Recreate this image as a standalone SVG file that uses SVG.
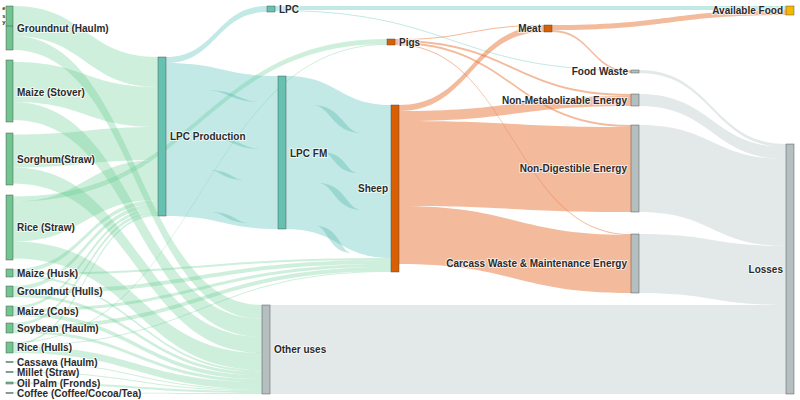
<svg xmlns="http://www.w3.org/2000/svg" width="800" height="400" viewBox="0 0 800 400">
<style>
.n{stroke:#444;stroke-width:.5;stroke-opacity:.85}
.cg{fill:#72c491}.ct{fill:#66c2b0}.co{fill:#d95f02}.cy{fill:#f5b800}.cx{fill:#b6bfc0}
.lg{fill:#5cc98c;fill-opacity:.3}
.lt{fill:#5fc4bb;fill-opacity:.38}
.lo{fill:#e8763a;fill-opacity:.5}
.lr{fill:#b0bcc0;fill-opacity:.35}
.ln{fill:#4fb8ad;fill-opacity:.35}
text{font-family:"Liberation Sans",Arial,sans-serif;font-weight:bold;font-size:10px;fill:#2b2b2b;stroke:#fff;stroke-width:2;stroke-opacity:.7;paint-order:stroke;stroke-linejoin:round}
.e{text-anchor:end}
.s{font-size:6px;stroke-width:1}
</style>
<rect width="800" height="400" fill="#fff"/>
<g id="links">
<path class="lg" d="M13 6C85.5 6 85.5 57 158 57L158 87C85.5 87 85.5 36 13 36Z"/>
<path class="lg" d="M13 62C85.5 62 85.5 87 158 87L158 127C85.5 127 85.5 102 13 102Z"/>
<path class="lg" d="M13 134.5C85.5 134.5 85.5 127 158 127L158 160C85.5 160 85.5 167.5 13 167.5Z"/>
<path class="lg" d="M13 201.5C85.5 201.5 85.5 160 158 160L158 200C85.5 200 85.5 241.5 13 241.5Z"/>
<path class="lg" d="M13 269C85.5 269 85.5 200 158 200L158 204C85.5 204 85.5 273 13 273Z"/>
<path class="lg" d="M13 286C85.5 286 85.5 204 158 204L158 208C85.5 208 85.5 290 13 290Z"/>
<path class="lg" d="M13 306C85.5 306 85.5 208 158 208L158 211C85.5 211 85.5 309 13 309Z"/>
<path class="lg" d="M13 323C85.5 323 85.5 211 158 211L158 214C85.5 214 85.5 326 13 326Z"/>
<path class="lg" d="M13 343C85.5 343 85.5 214 158 214L158 216C85.5 216 85.5 345 13 345Z"/>
<path class="lg" d="M13 36C137.5 36 137.5 305 262 305L262 319C137.5 319 137.5 50 13 50Z"/>
<path class="lg" d="M13 102C137.5 102 137.5 319 262 319L262 337C137.5 337 137.5 120 13 120Z"/>
<path class="lg" d="M13 167.5C137.5 167.5 137.5 337 262 337L262 353C137.5 353 137.5 183.5 13 183.5Z"/>
<path class="lg" d="M13 241.5C137.5 241.5 137.5 353 262 353L262 370C137.5 370 137.5 258.5 13 258.5Z"/>
<path class="lg" d="M13 275C137.5 275 137.5 370 262 370L262 372C137.5 372 137.5 277 13 277Z"/>
<path class="lg" d="M13 294C137.5 294 137.5 372 262 372L262 375C137.5 375 137.5 297 13 297Z"/>
<path class="lg" d="M13 312C137.5 312 137.5 375 262 375L262 379C137.5 379 137.5 316 13 316Z"/>
<path class="lg" d="M13 330C137.5 330 137.5 379 262 379L262 382C137.5 382 137.5 333 13 333Z"/>
<path class="lg" d="M13 346C137.5 346 137.5 382 262 382L262 389C137.5 389 137.5 353 13 353Z"/>
<path class="lg" d="M13 361.5C137.5 361.5 137.5 389 262 389L262 390C137.5 390 137.5 362.5 13 362.5Z"/>
<path class="lg" d="M13 371.5C137.5 371.5 137.5 390 262 390L262 391C137.5 391 137.5 372.5 13 372.5Z"/>
<path class="lg" d="M13 382C137.5 382 137.5 391 262 391L262 393C137.5 393 137.5 384 13 384Z"/>
<path class="lg" d="M13 392.5C137.5 392.5 137.5 393 262 393L262 394C137.5 394 137.5 393.5 13 393.5Z"/>
<path class="lg" d="M13 273C202 273 202 258 391 258L391 260C202 260 202 275 13 275Z"/>
<path class="lg" d="M13 290C202 290 202 260 391 260L391 264C202 264 202 294 13 294Z"/>
<path class="lg" d="M13 309C202 309 202 264 391 264L391 267C202 267 202 312 13 312Z"/>
<path class="lg" d="M13 326C202 326 202 267 391 267L391 271C202 271 202 330 13 330Z"/>
<path class="lg" d="M13 345C202 345 202 271 391 271L391 272C202 272 202 346 13 346Z"/>
<path class="lg" d="M13 196.5C200 196.5 200 39 387 39L387 44C200 44 200 201.5 13 201.5Z"/>
<path class="lg" d="M13 342C200 342 200 44 387 44L387 45C200 45 200 343 13 343Z"/>
<path class="lt" d="M166 57C216.5 57 216.5 6 267 6L267 12C216.5 12 216.5 63 166 63Z"/>
<path class="lt" d="M166 63C222 63 222 76 278 76L278 229C222 229 222 216 166 216Z"/>
<path class="lt" d="M286 76C338.5 76 338.5 105 391 105L391 258C338.5 258 338.5 229 286 229Z"/>
<path class="lt" d="M275 6L786 6L786 10L275 10Z"/>
<path class="lt" d="M275 10C453 10 453 70 631 70L631 71C453 71 453 11 275 11Z"/>
<path class="ln" d="M205 90C228.5 90 228.5 102 262 102C238.5 102 238.5 90 205 90Z"/>
<path class="ln" d="M212 138C232 138 232 149 262 149C242 149 242 138 212 138Z"/>
<path class="ln" d="M208 170C221.5 170 221.5 180 245 180C231.5 180 231.5 170 208 170Z"/>
<path class="ln" d="M210 212C225 212 225 223 250 223C235 223 235 212 210 212Z"/>
<path class="ln" d="M312 105C331 105 331 133 362 133C343 133 343 105 312 105Z"/>
<path class="ln" d="M322 152C334 152 334 173 358 173C346 173 346 152 322 152Z"/>
<path class="ln" d="M318 183C334 183 334 210 362 210C346 210 346 183 318 183Z"/>
<path class="ln" d="M316 226C328 226 328 253 352 253C340 253 340 226 316 226Z"/>
<path class="lo" d="M395 39C469.5 39 469.5 25 544 25L544 26C469.5 26 469.5 40 395 40Z"/>
<path class="lo" d="M395 40C513 40 513 94 631 94L631 96C513 96 513 42 395 42Z"/>
<path class="lo" d="M395 42C513 42 513 125 631 125L631 127C513 127 513 44 395 44Z"/>
<path class="lo" d="M395 44C513 44 513 234 631 234L631 235C513 235 513 45 395 45Z"/>
<path class="lo" d="M399 105C471.5 105 471.5 26 544 26L544 32C471.5 32 471.5 111 399 111Z"/>
<path class="lo" d="M399 111C515 111 515 96 631 96L631 106C515 106 515 121 399 121Z"/>
<path class="lo" d="M399 121C515 121 515 127 631 127L631 212C515 212 515 206 399 206Z"/>
<path class="lo" d="M399 206C515 206 515 235 631 235L631 293C515 293 515 264 399 264Z"/>
<path class="lo" d="M552 25C669 25 669 10 786 10L786 15C669 15 669 30 552 30Z"/>
<path class="lo" d="M552 30C591.5 30 591.5 71 631 71L631 73C591.5 73 591.5 32 552 32Z"/>
<path class="lr" d="M639 70C712.5 70 712.5 144 786 144L786 147C712.5 147 712.5 73 639 73Z"/>
<path class="lr" d="M639 94C712.5 94 712.5 147 786 147L786 159C712.5 159 712.5 106 639 106Z"/>
<path class="lr" d="M639 125C712.5 125 712.5 159 786 159L786 246C712.5 246 712.5 212 639 212Z"/>
<path class="lr" d="M639 234C712.5 234 712.5 246 786 246L786 305C712.5 305 712.5 293 639 293Z"/>
<path class="lr" d="M270 305L786 305L786 394L270 394Z"/>
</g>
<g id="node-groundnut-haulm"><rect class="n cg" x="6" y="6" width="7" height="44"/><line x1="6" y1="26" x2="13" y2="26" stroke="#444" stroke-width=".5"/><text x="17" y="31.5">Groundnut (Haulm)</text></g>
<g id="node-cut"><text class="e s" x="5.5" y="10">e</text><text class="e s" x="5.5" y="17.5">s</text><text class="e s" x="5.5" y="24">y</text></g>
<g id="node-maize-stover"><rect class="n cg" x="6" y="60" width="7" height="62"/><text x="17" y="95.5">Maize (Stover)</text></g>
<g id="node-sorghum-straw"><rect class="n cg" x="6" y="133" width="7" height="52"/><text x="17" y="162.5">Sorghum(Straw)</text></g>
<g id="node-rice-straw"><rect class="n cg" x="6" y="195" width="7" height="65"/><text x="17" y="230.5">Rice (Straw)</text></g>
<g id="node-maize-husk"><rect class="n cg" x="6" y="269" width="7" height="8"/><text x="17" y="276.5">Maize (Husk)</text></g>
<g id="node-groundnut-hulls"><rect class="n cg" x="6" y="286" width="7" height="11"/><text x="17" y="294.5">Groundnut (Hulls)</text></g>
<g id="node-maize-cobs"><rect class="n cg" x="6" y="306" width="7" height="10"/><text x="17" y="314.5">Maize (Cobs)</text></g>
<g id="node-soybean-haulm"><rect class="n cg" x="6" y="323" width="7" height="10"/><text x="17" y="331.5">Soybean (Haulm)</text></g>
<g id="node-rice-hulls"><rect class="n cg" x="6" y="342" width="7" height="11"/><text x="17" y="350.5">Rice (Hulls)</text></g>
<g id="node-cassava-haulm"><rect class="n cg" x="6" y="361.5" width="7" height="1"/><text x="17" y="366">Cassava (Haulm)</text></g>
<g id="node-millet-straw"><rect class="n cg" x="6" y="371.5" width="7" height="1"/><text x="17" y="376">Millet (Straw)</text></g>
<g id="node-oil-palm"><rect class="n cg" x="6" y="382" width="7" height="2"/><text x="17" y="386.5">Oil Palm (Fronds)</text></g>
<g id="node-coffee"><rect class="n cg" x="6" y="392.5" width="7" height="1"/><text x="17" y="397">Coffee (Coffee/Cocoa/Tea)</text></g>
<g id="node-lpc-production"><rect class="n ct" x="158" y="57" width="8" height="159"/><text x="170" y="140">LPC Production</text></g>
<g id="node-lpc"><rect class="n ct" x="267" y="6" width="8" height="6"/><text x="279" y="12.5">LPC</text></g>
<g id="node-lpc-fm"><rect class="n ct" x="278" y="76" width="8" height="153"/><text x="290" y="156.5">LPC FM</text></g>
<g id="node-other-uses"><rect class="n cx" x="262" y="305" width="8" height="89"/><text x="274" y="352.5">Other uses</text></g>
<g id="node-pigs"><rect class="n co" x="387" y="39" width="8" height="6"/><text x="399" y="45.5">Pigs</text></g>
<g id="node-sheep"><rect class="n co" x="391" y="105" width="8" height="167"/><text class="e" x="388" y="192">Sheep</text></g>
<g id="node-meat"><rect class="n co" x="544" y="25" width="8" height="7"/><text class="e" x="541" y="32">Meat</text></g>
<g id="node-food-waste"><rect class="n cx" x="631" y="70" width="8" height="3"/><text class="e" x="628" y="75">Food Waste</text></g>
<g id="node-non-metabolizable"><rect class="n cx" x="631" y="94" width="8" height="12"/><text class="e" x="627" y="103.5">Non-Metabolizable Energy</text></g>
<g id="node-non-digestible"><rect class="n cx" x="631" y="125" width="8" height="87"/><text class="e" x="627" y="172">Non-Digestible Energy</text></g>
<g id="node-carcass"><rect class="n cx" x="631" y="234" width="8" height="59"/><text class="e" x="627" y="267">Carcass Waste &amp; Maintenance Energy</text></g>
<g id="node-available-food"><rect class="n cy" x="786" y="6" width="8" height="9"/><text class="e" x="783" y="14">Available Food</text></g>
<g id="node-losses"><rect class="n cx" x="786" y="144" width="8" height="250"/><text class="e" x="783" y="272.5">Losses</text></g>
</svg>
